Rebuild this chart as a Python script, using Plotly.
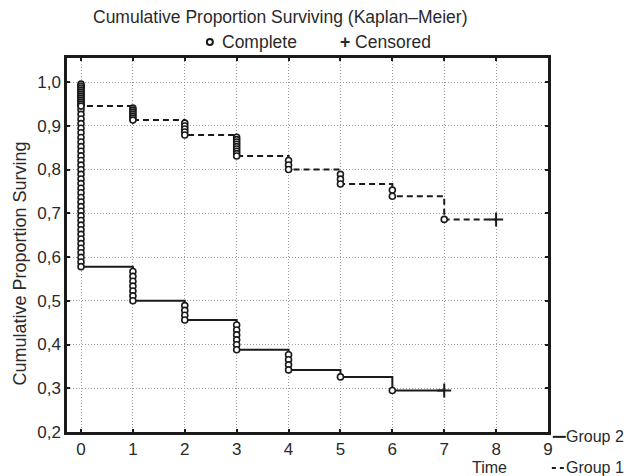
import plotly.graph_objects as go

# ---- data ----
x_ticks = [0, 1, 2, 3, 4, 5, 6, 7, 8, 9]
y_ticks = [0.2, 0.3, 0.4, 0.5, 0.6, 0.7, 0.8, 0.9, 1.0]

g2_times = [0, 1, 2, 3, 4, 5, 6]
g2_levels = [0.578, 0.500, 0.456, 0.388, 0.342, 0.326, 0.295]
g2_events = [40, 7, 4, 6, 4, 1, 1]
g2_censor_time = 7

g1_times = [0, 1, 2, 3, 4, 5, 6, 7]
g1_levels = [0.945, 0.913, 0.879, 0.831, 0.800, 0.767, 0.739, 0.686]
g1_events = [12, 7, 5, 9, 3, 3, 2, 1]
g1_censor_time = 8

FONT = "Arial, Liberation Sans, sans-serif"
INK = "#1a1a1a"
TXT = "#2a2a2a"


def step_xy(times, levels, censor):
    xs = [times[0]] + list(times) + [censor]
    ys = [1.0] + list(levels) + [levels[-1]]
    return xs, ys


def event_points(times, levels, events):
    xs, ys = [], []
    prev = 1.0
    for t, lv, d in zip(times, levels, events):
        for k in range(1, d + 1):
            xs.append(t)
            ys.append(prev - k * (prev - lv) / d)
        prev = lv
    return xs, ys


fig = go.Figure()

for times, levels, events, cens, dash in [
    (g2_times, g2_levels, g2_events, g2_censor_time, "solid"),
    (g1_times, g1_levels, g1_events, g1_censor_time, "6px,4px"),
]:
    lx, ly = step_xy(times, levels, cens)
    fig.add_trace(go.Scatter(x=lx, y=ly, mode="lines", line=dict(color=INK, width=2, dash=dash, shape="hv"),
                             showlegend=False, hoverinfo="skip"))
    ex, ey = event_points(times, levels, events)
    fig.add_trace(go.Scatter(x=ex, y=ey, mode="markers",
                             marker=dict(symbol="circle", size=6, color="white", line=dict(color=INK, width=1.6)),
                             showlegend=False))
    fig.add_trace(go.Scatter(x=[cens], y=[levels[-1]], mode="markers",
                             marker=dict(symbol="cross-thin", size=10, line=dict(color=INK, width=2)),
                             showlegend=False))

axis_common = dict(showline=True, linewidth=2.5, linecolor=INK, mirror="ticks", ticks="inside", ticklen=3,
                   tickwidth=2, tickcolor=INK, showgrid=True, gridcolor="#9c9c9c", griddash="1px,2px", gridwidth=1,
                   zeroline=False, tickfont=dict(family=FONT, size=17, color=TXT))

fig.update_xaxes(range=[-0.27, 9], tickvals=x_ticks, ticktext=[str(v) for v in x_ticks], **axis_common)
fig.update_yaxes(range=[0.2, 1.055], tickvals=y_ticks, tickformat=".1f", **axis_common)

ann = [
    dict(text="Cumulative Proportion Surviving (Kaplan\u2013Meier)", x=0.443, y=1.11, size=17.5),
    dict(text="Complete", x=0.318, y=1.043, xanchor="left", size=17.5),
    dict(text="<b>+</b> Censored", x=0.563, y=1.043, xanchor="left", size=17.5),
    dict(text="Cumulative Proportion Surving", x=-0.098, y=0.45, textangle=-90, size=18),
    dict(text="Time", x=0.879, y=-0.096, size=16),
    dict(text="Group 2", x=1.033, y=-0.013, xanchor="left", size=16),
    dict(text="Group 1", x=1.033, y=-0.096, xanchor="left", size=16),
]
for a in ann:
    a.setdefault("xanchor", "center")
    size = a.pop("size")
    fig.add_annotation(xref="paper", yref="paper", showarrow=False, yanchor="middle",
                       font=dict(family=FONT, size=size, color=TXT), **a)

# legend line samples beside the group labels
fig.add_shape(type="line", xref="paper", yref="paper", x0=1.010, x1=1.037, y0=-0.013, y1=-0.013,
              line=dict(color=INK, width=2))
fig.add_shape(type="line", xref="paper", yref="paper", x0=1.008, x1=1.037, y0=-0.096, y1=-0.096,
              line=dict(color=INK, width=2, dash="4px,4px"))

fig.add_shape(type="circle", xref="paper", yref="paper", xsizemode="pixel", ysizemode="pixel",
              xanchor=0.297, yanchor=1.043, x0=-3, x1=3, y0=-3, y1=3,
              line=dict(color=INK, width=2), fillcolor="white")

fig.update_layout(width=644, height=476, margin=dict(l=67, r=96, t=58, b=44),
                  plot_bgcolor="white", paper_bgcolor="white", separators=",.",
                  font=dict(family=FONT, size=16, color=INK))

fig.write_html("out.html", config={"displayModeBar": False},
               post_script="document.body.style.margin='0';document.body.style.overflow='hidden';")
